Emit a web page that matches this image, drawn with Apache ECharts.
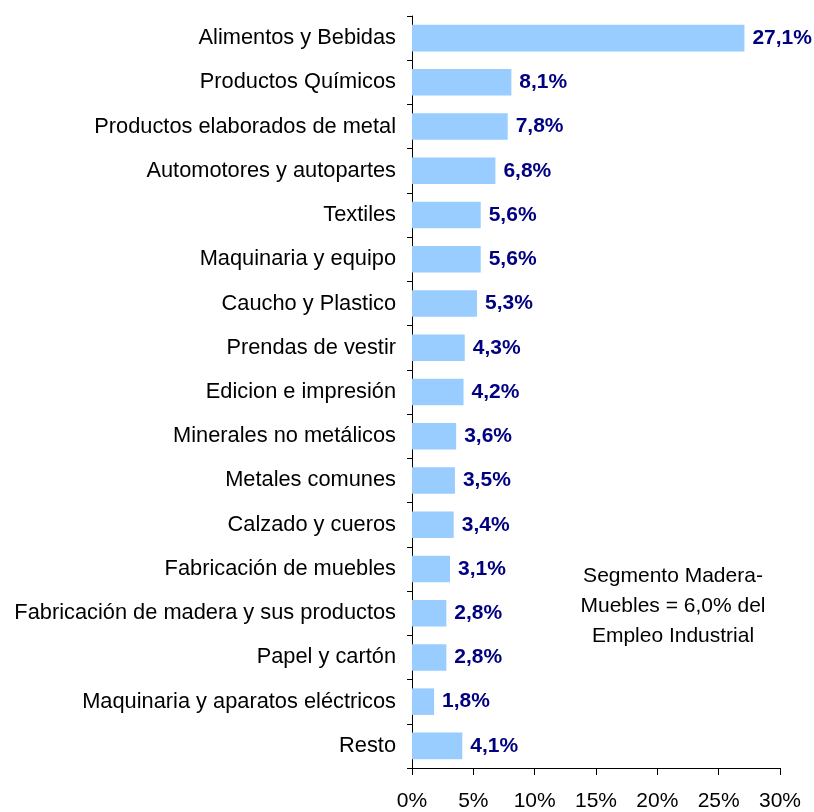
<!DOCTYPE html>
<html>
<head>
<meta charset="utf-8">
<script src="https://cdn.jsdelivr.net/npm/echarts@6/dist/echarts.min.js"></script>
<style>
html,body{margin:0;padding:0;background:#fff;}
#chart{width:814px;height:812px;}
</style>
</head>
<body>
<div id="chart"></div>
<script>
var categories = ['Alimentos y Bebidas','Productos Químicos','Productos elaborados de metal','Automotores y autopartes','Textiles','Maquinaria y equipo','Caucho y Plastico','Prendas de vestir','Edicion e impresión','Minerales no metálicos','Metales comunes','Calzado y cueros','Fabricación de muebles','Fabricación de madera y sus productos','Papel y cartón','Maquinaria y aparatos eléctricos','Resto'];
var shares = [27.1, 8.1, 7.8, 6.8, 5.6, 5.6, 5.3, 4.3, 4.2, 3.6, 3.5, 3.4, 3.1, 2.8, 2.8, 1.8, 4.1];
var noteLines = ['Segmento Madera-', 'Muebles = 6,0% del', 'Empleo Industrial'];

var font = 'Liberation Sans, Arial, sans-serif';
var myChart = echarts.init(document.getElementById('chart'));

// nota centrada, una linea por elemento
var noteGraphics = [];
for (let i = 0; i < noteLines.length; i++) {
	noteGraphics.push({
		type: 'text',
		x: 673, y: 576 + i * 30,
		style: {
			text: noteLines[i],
			fontSize: 21, fontFamily: font, fill: '#000',
			align: 'center', verticalAlign: 'middle'
		}
	});
}

var option = {
	animation: false,
	grid: {left: 412, right: 34, top: 16, bottom: 38, containLabel: false},
	xAxis: {
		type: 'value',
		min: 0, max: 30, interval: 5,
		axisLine: {show: true, lineStyle: {color: '#000', width: 1}},
		axisTick: {show: true, length: 7, lineStyle: {color: '#000'}},
		axisLabel: {
			margin: 23, fontSize: 21, color: '#000', fontFamily: font,
			formatter: function (v) { return v + '%'; }
		},
		splitLine: {show: false}
	},
	yAxis: {
		type: 'category',
		inverse: true,
		data: categories,
		axisLine: {show: true, lineStyle: {color: '#000', width: 1}},
		axisTick: {show: true, length: 5, lineStyle: {color: '#000'}},
		axisLabel: {margin: 16, fontSize: 21.8, color: '#000', fontFamily: font, interval: 0}
	},
	series: [{
		type: 'bar',
		data: shares,
		barCategoryGap: '40%',
		itemStyle: {color: '#99CCFF'},
		label: {
			show: true, position: 'right', distance: 8,
			fontSize: 21, fontWeight: 'bold', color: '#000080', fontFamily: font,
			formatter: function (p) { return p.value.toFixed(1).replace('.', ',') + '%'; }
		}
	}],
	graphic: noteGraphics
};
myChart.setOption(option);
</script>
</body>
</html>
